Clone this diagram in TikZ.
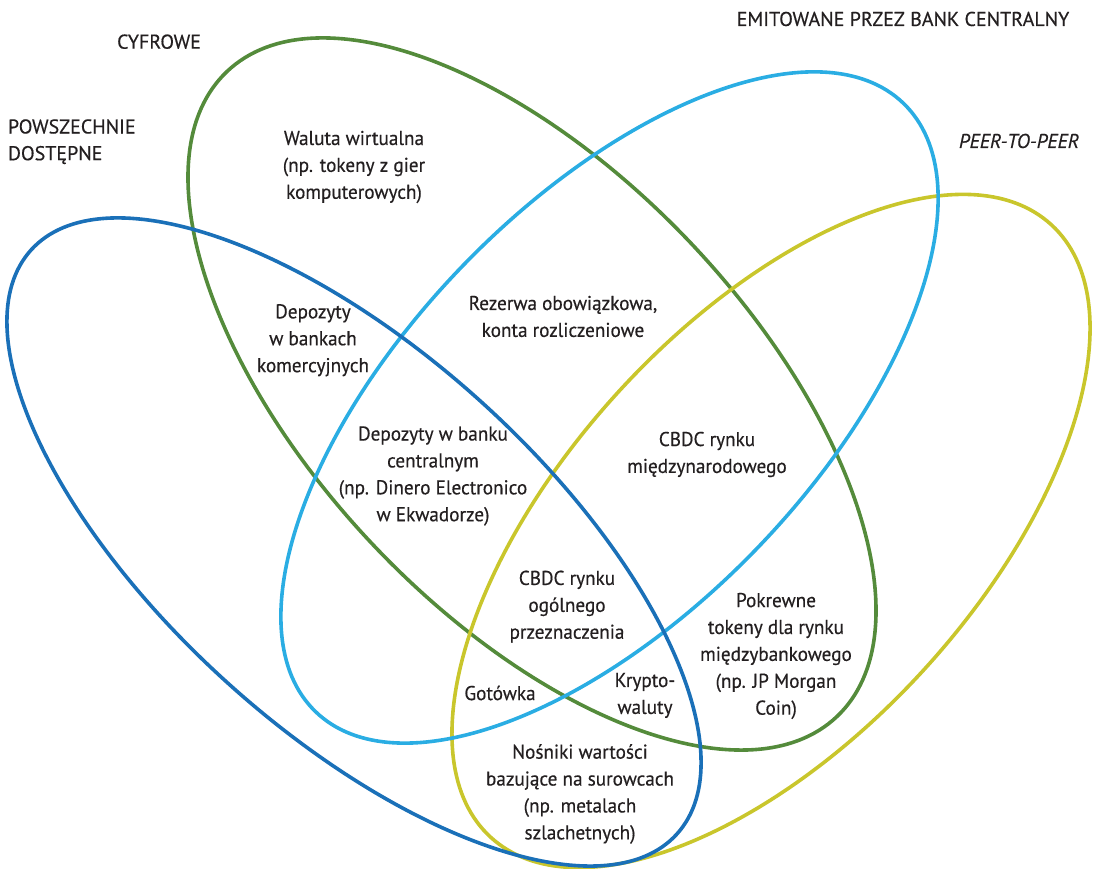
\documentclass[tikz,border=0pt]{standalone}
\usepackage{fontspec}
\setmainfont{PT Sans}[FakeStretch=0.96, FakeBold=0.4]
\newfontfamily\hdrfont{PT Sans}[FakeBold=0.4]
\begin{document}
\begin{tikzpicture}[x=1pt,y=1pt,
  ring/.style={line width=3.6pt},
  lbl/.style={text=txt, align=center, inner sep=0pt, font=\fontsize{20}{26.9}\selectfont},
  hdr/.style={text=txt, inner sep=0pt, font=\hdrfont\fontsize{20}{26.7}\selectfont}]
\definecolor{cgreen}{HTML}{548B3B}
\definecolor{cblue}{HTML}{1A70B8}
\definecolor{ccyan}{HTML}{2AADE3}
\definecolor{cyellow}{HTML}{C9C62C}
\definecolor{txt}{HTML}{231F20}
\useasboundingbox (0,0) rectangle (1095,869);
% ellipses (y measured upward: Y = 869 - y_screen)
\draw[ring, cgreen, rotate around={-46.62:(532,475)}] (532,475) ellipse [x radius=443.9, y radius=219.1];
\draw[ring, cyellow, rotate around={47.54:(771,338)}] (771,338) ellipse [x radius=415.2, y radius=206.5];
\draw[ring, ccyan, rotate around={45.97:(609.5,461.5)}] (609.5,461.5) ellipse [x radius=423, y radius=204];
\draw[ring, cblue, rotate around={-42.12:(354,327)}] (354,327) ellipse [x radius=435.4, y radius=189.3];
% headings
\node[hdr] (cyf) at (159,827.3) {CYFROWE};
\node[hdr, anchor=west, align=left] (pow) at (7.7,727.3) {POWSZECHNIE\\DOSTĘPNE};
\node[hdr] (emi) at (903,850) {EMITOWANE PRZEZ BANK CENTRALNY};
\node[hdr, font=\hdrfont\fontsize{20}{26.7}\selectfont\itshape] (p2p) at (1019,728) {PEER-TO-PEER};
% region labels
\node[lbl] (wal) at (354,702) {Waluta wirtualna\\(np. tokeny z gier\\komputerowych)};
\node[lbl] (dbk) at (313,528.7) {Depozyty\\w bankach\\komercyjnych};
\node[lbl] (rez) at (563,552.5) {Rezerwa obowiązkowa,\\konta rozliczeniowe};
\node[lbl] (dbc) at (433,393) {Depozyty w banku\\centralnym\\(np. Dinero Electronico\\w Ekwadorze)};
\node[lbl] (cmi) at (707,414.5) {CBDC rynku\\międzynarodowego};
\node[lbl] (cog) at (567,262.3) {CBDC rynku\\ogólnego\\przeznaczenia};
\node[lbl] (pok) at (776,213) {Pokrewne\\tokeny dla rynku\\międzybankowego\\(np. JP Morgan\\Coin)};
\node[lbl] (got) at (500,176) {Gotówka};
\node[lbl] (kry) at (645,173.5) {Krypto-\\waluty};
\node[lbl] (nos) at (580,75) {Nośniki wartości\\bazujące na surowcach\\(np. metalach\\szlachetnych)};
\end{tikzpicture}
\end{document}
